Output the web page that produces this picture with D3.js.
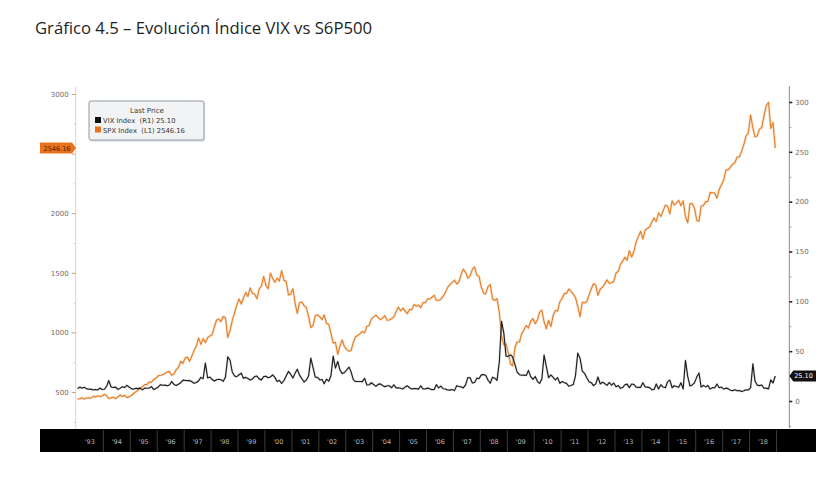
<!DOCTYPE html>
<html>
<head>
<meta charset="utf-8">
<script src="https://cdn.jsdelivr.net/npm/d3@7"></script>
<style>
  html, body { margin: 0; padding: 0; background: #fff; }
  svg { display: block; }
  text { white-space: pre; }
</style>
</head>
<body>
<svg id="chart" width="837" height="488"></svg>
<script>
// ---------------- DATA ----------------
const titleText = "Gráfico 4.5 – Evolución Índice VIX vs S6P500";
const startYear = 1993;
const yearLabels = ["'93","'94","'95","'96","'97","'98","'99","'00","'01","'02","'03","'04","'05","'06","'07","'08","'09","'10","'11","'12","'13","'14","'15","'16","'17","'18"];
const leftTicks = [500, 1000, 1500, 2000, 2500, 3000];
const leftMinorTicks = [250, 750, 1250, 1750, 2250, 2750];
const rightTicks = [0, 50, 100, 150, 200, 250, 300];
const rightMinorTicks = [-25, 25, 75, 125, 175, 225, 275];
const legendTitle = "Last Price";
const legendRows = ["VIX Index  (R1) 25.10", "SPX Index  (L1) 2546.16"];
const lastSpx = 2546.16;
const lastVix = 25.10;

// S&P 500, monthly (Jan 1993 .. Dec 2018)
const spxMonthly = [
 438.8,443.4,451.7,440.2,450.2,450.5,448.1,463.6,458.9,467.8,461.8,466.5,
 481.6,467.1,445.8,450.9,456.5,444.3,458.3,475.5,462.7,472.4,453.7,459.3,
 470.4,487.4,500.7,514.7,533.4,544.8,562.1,561.9,584.4,581.5,605.4,615.9,
 636.0,640.4,645.5,654.2,669.1,670.6,640.0,652.0,687.3,705.3,757.0,740.7,
 786.2,790.8,757.1,801.3,848.3,885.1,954.3,899.5,947.3,914.6,955.4,970.4,
 980.3,1049.3,1101.8,1111.8,1090.8,1133.8,1120.7,957.3,1017.0,1098.7,1163.6,1229.2,
 1279.6,1238.3,1286.4,1335.2,1301.8,1372.7,1328.7,1320.4,1282.7,1362.9,1388.9,1469.3,
 1394.5,1366.4,1498.6,1452.4,1420.6,1454.6,1430.8,1517.7,1436.5,1429.4,1315.0,1320.3,
 1366.0,1239.9,1160.3,1249.5,1255.8,1224.4,1211.2,1133.6,1040.9,1059.8,1139.5,1148.1,
 1130.2,1106.7,1147.4,1076.9,1067.1,989.8,911.6,916.1,815.3,885.8,936.3,879.8,
 855.7,841.2,848.2,916.9,963.6,974.5,990.3,1008.0,996.0,1050.7,1058.2,1111.9,
 1131.1,1144.9,1126.2,1107.3,1120.7,1140.8,1101.7,1104.2,1114.6,1130.2,1173.8,1211.9,
 1181.3,1203.6,1180.6,1156.9,1191.5,1191.3,1234.2,1220.3,1228.8,1207.0,1249.5,1248.3,
 1280.1,1280.7,1294.8,1310.6,1270.1,1270.2,1276.7,1303.8,1335.9,1377.9,1400.6,1418.3,
 1438.2,1406.8,1420.9,1482.4,1530.6,1503.4,1455.3,1474.0,1526.8,1549.4,1481.1,1468.4,
 1378.6,1330.6,1322.7,1385.6,1400.4,1280.0,1267.4,1282.8,1166.4,968.8,896.2,903.3,
 825.9,735.1,720.0,872.8,919.1,919.3,987.5,1020.6,1057.1,1036.2,1095.6,1115.1,
 1073.9,1104.5,1169.4,1186.7,1089.4,1030.7,1101.6,1049.3,1141.2,1183.3,1180.6,1257.6,
 1286.1,1327.2,1325.8,1363.6,1345.2,1320.6,1292.3,1218.9,1131.4,1253.3,1247.0,1257.6,
 1312.4,1365.7,1408.5,1397.9,1310.3,1362.2,1379.3,1406.6,1440.7,1412.2,1416.2,1426.2,
 1498.1,1514.7,1569.2,1597.6,1630.7,1606.3,1685.7,1633.0,1681.6,1756.5,1805.8,1848.4,
 1782.6,1859.5,1872.3,1884.0,1923.6,1960.2,1930.7,2003.4,1972.3,2018.1,2067.6,2058.9,
 1995.0,2104.5,2067.9,2085.5,2107.4,2063.1,2103.8,1972.2,1920.0,2079.4,2080.4,2043.9,
 1940.2,1932.2,2059.7,2065.3,2097.0,2098.9,2173.6,2171.0,2168.3,2126.2,2198.8,2238.8,
 2278.9,2363.6,2362.7,2384.2,2411.8,2423.4,2470.3,2471.7,2519.4,2575.3,2647.6,2673.6,
 2823.8,2713.8,2640.9,2648.1,2705.3,2718.4,2816.3,2901.5,2930.0,2711.7,2760.2,2546.16
];

// VIX, monthly (Jan 1993 .. Dec 2018)
const vixMonthly = [
 12.4,14.0,12.9,13.8,12.4,11.8,11.9,11.1,11.6,11.0,13.0,11.6,
 11.8,15.0,20.5,14.1,13.5,13.9,11.8,12.6,14.4,13.5,15.7,14.0,
 12.4,11.8,12.7,12.4,12.9,11.2,12.9,12.8,13.0,14.4,11.5,12.5,
 14.1,16.4,15.8,15.9,15.3,16.1,19.5,16.6,15.6,16.9,18.3,20.9,
 20.6,20.4,20.6,19.3,17.9,18.6,20.1,23.7,22.3,38.0,23.1,24.0,
 21.5,20.0,21.4,21.8,21.3,19.7,24.1,44.3,40.9,29.1,25.0,24.4,
 26.3,27.9,22.8,23.7,22.6,21.1,22.0,24.6,25.0,22.2,21.2,24.6,
 24.9,23.4,24.1,26.2,23.7,19.5,20.7,17.6,20.6,25.0,29.7,26.9,
 23.0,28.2,31.9,26.0,22.6,19.1,20.9,25.0,43.0,33.6,23.8,23.8,
 21.1,21.6,17.4,21.9,19.9,25.4,45.0,33.0,39.7,31.1,27.5,28.6,
 31.2,34.0,29.2,21.2,19.5,19.5,19.5,19.4,22.7,16.1,16.3,18.3,
 16.6,14.6,16.7,17.2,15.5,14.3,15.3,15.3,13.3,16.3,13.2,13.3,
 12.8,12.1,14.0,15.3,13.3,12.0,12.4,12.6,11.9,15.3,12.1,12.1,
 12.9,12.3,11.4,11.6,16.4,13.1,14.9,12.3,12.0,11.1,10.9,11.6,
 10.4,15.4,14.6,14.2,13.1,16.2,23.5,23.4,18.0,18.5,22.9,22.5,
 26.2,26.5,25.6,20.8,17.8,23.9,22.9,20.7,39.4,80.0,68.0,45.0,
 44.8,46.4,44.1,36.5,28.9,26.4,25.9,26.0,25.6,30.7,24.5,21.7,
 24.6,19.5,17.6,22.1,46.0,34.5,23.5,26.1,23.7,21.2,23.5,17.8,
 19.5,18.4,17.7,14.8,15.5,16.5,25.3,48.0,43.0,30.0,27.8,23.4,
 19.4,18.4,15.5,17.2,24.1,17.1,18.9,17.5,15.7,18.6,16.0,18.0,
 14.3,15.5,12.7,13.5,16.3,16.9,13.4,17.0,16.6,13.8,13.7,13.7,
 18.4,14.0,13.9,13.4,11.4,11.6,17.0,12.0,16.3,14.0,13.3,19.2,
 21.0,13.3,15.3,14.6,13.8,18.2,12.1,40.7,24.5,15.1,16.1,18.2,
 24.0,28.0,14.0,15.7,14.2,15.6,11.9,13.4,13.3,17.1,13.3,14.0,
 12.0,12.9,12.4,10.8,10.4,11.2,10.3,10.6,9.5,10.2,11.3,11.0,
 13.5,37.3,20.0,15.9,15.4,16.1,12.8,12.9,12.1,21.2,18.1,25.1
];

// ---------------- DRAW ----------------
const svg = d3.select("#chart");
const FONT_AX = "'DejaVu Sans', 'Liberation Sans', sans-serif";

const dateOf = i => new Date(startYear, i, 15);

const x = d3.scaleTime()
  .domain([new Date(startYear, 0, 1), new Date(startYear + yearLabels.length, 0, 1)])
  .range([76.5, 776.5]);
const yL = d3.scaleLinear().domain([500, 3000]).range([392, 94]);
const yR = d3.scaleLinear().domain([0, 300]).range([401, 102]);

const axLeftX = 75.7, axRightX = 789.3;

// Title
svg.append("text")
  .attr("x", 35).attr("y", 34)
  .attr("font-family", "'Open Sans', Roboto, sans-serif")
  .attr("font-size", 16)
  .attr("fill", "#1e1e1e")
  .attr("textLength", 337)
  .attr("lengthAdjust", "spacingAndGlyphs")
  .text(titleText);

// Axis lines
svg.append("line").attr("x1", axLeftX).attr("x2", axLeftX).attr("y1", 87).attr("y2", 429)
  .attr("stroke", "#ead9c2").attr("stroke-width", 1.2);
svg.append("line").attr("x1", axRightX).attr("x2", axRightX).attr("y1", 86).attr("y2", 428)
  .attr("stroke", "#8a8a8a").attr("stroke-width", 1);

// Left axis (the 2500 label sits under the last-price tag, as in the original)
const gL = svg.append("g").attr("transform", `translate(${axLeftX},0)`)
  .call(d3.axisLeft(yL).tickValues(leftTicks).tickSize(4).tickPadding(3)
    .tickFormat(d => Math.abs(yL(d) - yL(lastSpx)) < 9 ? "" : d3.format("d")(d)));
gL.select(".domain").remove();
gL.selectAll("line").attr("stroke", "#b9a48c");
gL.selectAll("text").attr("font-family", FONT_AX).attr("font-size", 7).attr("fill", "#6b6b6b");
const gLm = svg.append("g").attr("transform", `translate(${axLeftX},0)`)
  .call(d3.axisLeft(yL).tickValues(leftMinorTicks).tickSize(2).tickFormat(""));
gLm.select(".domain").remove();
gLm.selectAll("line").attr("stroke", "#d8c8b4");

// Right axis
const gR = svg.append("g").attr("transform", `translate(${axRightX},0)`)
  .call(d3.axisRight(yR).tickValues(rightTicks).tickSize(3).tickPadding(3).tickFormat(d3.format("d")));
gR.select(".domain").remove();
gR.selectAll("line").attr("stroke", "#222").attr("stroke-width", 1.6);
gR.selectAll("text").attr("font-family", FONT_AX).attr("font-size", 7).attr("fill", "#6b6b6b");
const gRm = svg.append("g").attr("transform", `translate(${axRightX},0)`)
  .call(d3.axisRight(yR).tickValues(rightMinorTicks).tickSize(2).tickFormat(""));
gRm.select(".domain").remove();
gRm.selectAll("line").attr("stroke", "#999");

// Lines
const spxLine = d3.line().x((d, i) => x(dateOf(i))).y(d => yL(d)).curve(d3.curveLinear);
const vixLine = d3.line().x((d, i) => x(dateOf(i))).y(d => yR(d)).curve(d3.curveLinear);

svg.append("path").datum(spxMonthly).attr("d", spxLine)
  .attr("fill", "none").attr("stroke", "#f6c69a").attr("stroke-width", 2.6).attr("stroke-linejoin", "round").attr("opacity", 0.5);
svg.append("path").datum(spxMonthly).attr("d", spxLine)
  .attr("fill", "none").attr("stroke", "#e47e26").attr("stroke-width", 1.1).attr("stroke-linejoin", "round");
svg.append("path").datum(vixMonthly).attr("d", vixLine)
  .attr("fill", "none").attr("stroke", "#a0a0a0").attr("stroke-width", 2.2).attr("stroke-linejoin", "round").attr("opacity", 0.4);
svg.append("path").datum(vixMonthly).attr("d", vixLine)
  .attr("fill", "none").attr("stroke", "#1b1b1b").attr("stroke-width", 1.1).attr("stroke-linejoin", "round");

// Bottom time band
svg.append("rect").attr("x", 40).attr("y", 429).attr("width", 776).attr("height", 23).attr("fill", "#000");
const bandG = svg.append("g");
bandG.selectAll("line.sep").data(yearLabels).enter().append("line")
  .attr("class", "sep")
  .attr("x1", (d, i) => x(new Date(startYear + i + 1, 0, 1)))
  .attr("x2", (d, i) => x(new Date(startYear + i + 1, 0, 1)))
  .attr("y1", 430).attr("y2", 452)
  .attr("stroke", "#4a4a4a").attr("stroke-width", 0.8);
bandG.selectAll("text").data(yearLabels).enter().append("text")
  .attr("x", (d, i) => x(new Date(startYear + i, 6, 1)))
  .attr("y", 444)
  .attr("text-anchor", "middle")
  .attr("font-family", FONT_AX).attr("font-size", 6.5)
  .attr("fill", "#b8b8b8")
  .text(d => d);

// Last-price tags
const ty = yL(lastSpx);
svg.append("path")
  .attr("d", `M40,${ty - 5.5}H72L76,${ty}L72,${ty + 5.5}H40Z`)
  .attr("fill", "#e8731c");
svg.append("text").attr("x", 57).attr("y", ty + 2.5).attr("text-anchor", "middle")
  .attr("font-family", FONT_AX).attr("font-size", 6.5).attr("fill", "#4a2300")
  .text(d3.format(".2f")(lastSpx));

const vy = yR(lastVix);
svg.append("path")
  .attr("d", `M${axRightX},${vy}L${axRightX + 4},${vy - 5.5}H816V${vy + 5.5}H${axRightX + 4}Z`)
  .attr("fill", "#111");
svg.append("text").attr("x", 803.5).attr("y", vy + 2.5).attr("text-anchor", "middle")
  .attr("font-family", FONT_AX).attr("font-size", 6.5).attr("fill", "#fff")
  .text(d3.format(".2f")(lastVix));

// Legend
const lg = svg.append("g");
lg.append("rect").attr("x", 90).attr("y", 102).attr("width", 115).attr("height", 40).attr("rx", 2)
  .attr("fill", "#c9ccd0").attr("opacity", 0.5);
lg.append("rect").attr("x", 89).attr("y", 101).attr("width", 115).attr("height", 39).attr("rx", 2)
  .attr("fill", "#f2f3f5").attr("stroke", "#8f98a3").attr("stroke-width", 1);
lg.append("text").attr("x", 147).attr("y", 113).attr("text-anchor", "middle")
  .attr("font-family", FONT_AX).attr("font-size", 7).attr("fill", "#333")
  .text(legendTitle);
const swatchColors = ["#111", "#e8731c"];
legendRows.forEach((t, i) => {
  lg.append("rect").attr("x", 95).attr("y", 117 + i * 9.5).attr("width", 6).attr("height", 6).attr("fill", swatchColors[i]);
  lg.append("text").attr("x", 103).attr("y", 123 + i * 9.5)
    .attr("font-family", FONT_AX).attr("font-size", 6.8).attr("fill", "#333")
    .text(t);
});
</script>
</body>
</html>
